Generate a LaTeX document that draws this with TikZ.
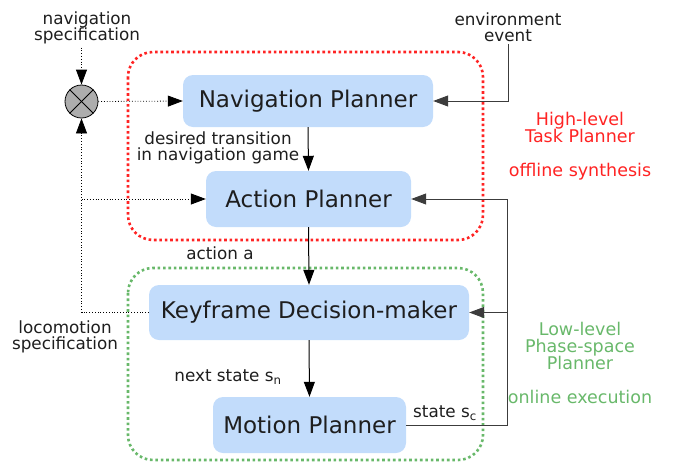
\documentclass[tikz,border=0pt]{standalone}
\usepackage{fontspec}
\setmainfont{DejaVu Sans}
\usetikzlibrary{arrows.meta}
\definecolor{boxblue}{RGB}{194,220,251}
\definecolor{hired}{RGB}{255,35,35}
\definecolor{logreen}{RGB}{104,184,106}
\definecolor{ink}{RGB}{30,30,30}
\definecolor{wire}{RGB}{60,60,60}
\begin{document}
\begin{tikzpicture}[x=1pt,y=-1pt,
  planner/.style={draw=none,fill=boxblue,rounded corners=10pt,
    font=\fontsize{23}{25}\selectfont,text=ink,inner sep=0pt},
  lbl/.style={font=\fontsize{16.8}{16.5}\selectfont,text=ink,align=center,inner sep=0pt},
  redlbl/.style={font=\fontsize{17.5}{17}\selectfont,text=hired,align=center,inner sep=0pt},
  greenlbl/.style={font=\fontsize{17.5}{17}\selectfont,text=logreen,align=center,inner sep=0pt},
  tip/.style={-{Triangle[length=15pt,width=11pt]}},
  flow/.style={tip,line width=1pt,draw=black},
  feed/.style={tip,line width=1pt,draw=wire},
  spec/.style={tip,line width=0.8pt,dotted,draw=black},
  group/.style={line width=2.6pt,dash pattern=on 2.6pt off 2.8pt,rounded corners=25pt}
]
\useasboundingbox (0,0) rectangle (673,464);

% dotted group frames
\draw[group,draw=hired] (128,52) rectangle (483,240);
\draw[group,draw=logreen] (128,268) rectangle (483,460);

% planner boxes
\node[planner,minimum width=250pt,minimum height=52pt] (nav) at (308,101) {Navigation Planner};
\node[planner,minimum width=205pt,minimum height=56pt] (act) at (308.5,199) {Action Planner};
\node[planner,minimum width=320pt,minimum height=55pt] (key) at (309,312.5) {Keyframe Decision-maker};
\node[planner,minimum width=193pt,minimum height=56pt] (mot) at (309.5,425) {Motion Planner};

% specification mixer
\node[circle,draw=black,line width=0.8pt,fill=black!32,minimum size=33pt,inner sep=0pt] (mix) at (81.5,101.5) {};
\draw[line width=0.8pt] (mix.north west) -- (mix.south east);
\draw[line width=0.8pt] (mix.north east) -- (mix.south west);

% text labels
\node[lbl] (navspec) at (87,28) {navigation\\specification};
\node[lbl] (envev) at (508,27) {environment\\event};
\node[lbl] (desired) at (218,148) {desired transition\\in navigation game};
\node[lbl] (acta) at (220,253) {action a};
\node[lbl] (nexts) at (228,377) {next state s\textsubscript{n}};
\node[lbl] (states) at (445,413) {state s\textsubscript{c}};
\node[lbl] (locospec) at (65,337) {locomotion\\specification};
\node[redlbl] (hltp) at (580,127) {High-level\\Task Planner};
\node[redlbl] (offl) at (580,172) {offline synthesis};
\node[greenlbl] (llpp) at (580,346) {Low-level\\Phase-space\\Planner};
\node[greenlbl] (onl) at (580,397) {online execution};

% main flow
\draw[flow] (nav.south) -- (act.north);
\draw[flow] (act.south) -- (key.north);
\draw[flow] (key.south) -- (mot.north);

% specification paths
\coordinate (lb) at (mix.south |- key.west);
\coordinate (lm) at (mix.south |- act.west);
\draw[spec] (mix.north |- navspec.south) ++(0,3) -- (mix.north);
\draw[spec] (mix.east) -- (nav.west);
\draw[spec] (key.west) -- (lb) -- (mix.south);
\draw[spec] (lm) -- (act.west);

% environment event
\draw[feed] (envev.south) ++(0,2) |- (nav.east);

% state feedback
\coordinate (rb) at (507,425);
\coordinate (rt) at (rb |- act.east);
\draw[feed] (mot.east) -- (rb) -- (rt) -- (act.east);
\draw[feed] (rb |- key.east) -- (key.east);
\end{tikzpicture}
\end{document}
